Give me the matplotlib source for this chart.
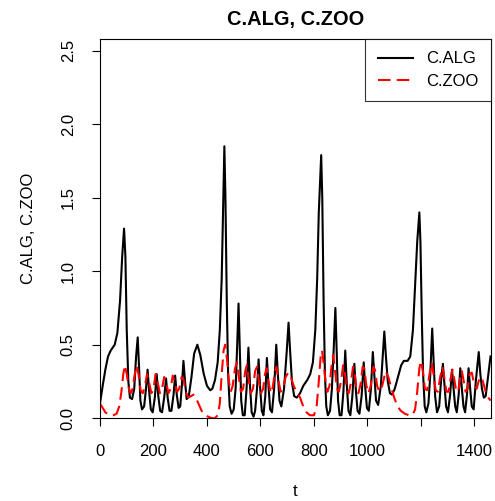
import matplotlib
matplotlib.use("Agg")
import matplotlib.pyplot as plt

plt.rcParams['font.family'] = ['Liberation Sans', 'DejaVu Sans']

title = "C.ALG, C.ZOO"
xlabel = "t"
ylabel = "C.ALG, C.ZOO"
series_names = ["C.ALG", "C.ZOO"]

x_ticks = [0, 200, 400, 600, 800, 1000, 1200, 1400]
x_tick_labels = ["0", "200", "400", "600", "800", "1000", "", "1400"]
y_ticks = [0.0, 0.5, 1.0, 1.5, 2.0, 2.5]
y_tick_labels = ["0.0", "0.5", "1.0", "1.5", "2.0", "2.5"]

alg_t = [0, 10, 20, 30, 40, 55, 65, 75, 83, 90, 95, 100, 106, 112, 120, 128, 135, 141, 146, 151,
         157, 165, 172, 178, 184, 190, 197, 205, 212, 218, 225, 232, 240, 247, 253, 260, 267, 275,
         281, 287, 294, 300, 306, 312, 318, 324, 332, 342, 352, 364, 375, 388, 400, 412, 420, 430,
         440, 448, 455, 460, 465, 469, 474, 479, 485, 492, 500, 507, 513, 518, 523, 528, 534, 541,
         548, 555, 561, 567, 574, 580, 587, 593, 599, 605, 611, 618, 624, 630, 636, 643, 651, 659,
         665, 671, 678, 688, 698, 705, 711, 718, 726, 736, 748, 760, 775, 786, 796, 805, 812, 818,
         827, 831, 836, 841, 846, 852, 860, 867, 874, 880, 885, 890, 896, 903, 910, 917, 923, 929,
         936, 943, 951, 957, 963, 970, 978, 986, 992, 998, 1005, 1013, 1020, 1026, 1032, 1040, 1050,
         1063, 1069, 1076, 1084, 1092, 1102, 1114, 1126, 1136, 1150, 1160, 1170, 1178, 1186, 1194,
         1198, 1203, 1208, 1214, 1220, 1228, 1235, 1242, 1247, 1253, 1260, 1268, 1275, 1282, 1288,
         1294, 1301, 1309, 1316, 1322, 1328, 1334, 1341, 1347, 1353, 1359, 1365, 1372, 1378, 1384,
         1390, 1397, 1405, 1416, 1422, 1428, 1435, 1442, 1452, 1460]
alg_val = [0.10, 0.22, 0.33, 0.42, 0.46, 0.50, 0.58, 0.80, 1.10, 1.29, 1.10, 0.60, 0.25, 0.14, 0.13,
           0.20, 0.42, 0.55, 0.35, 0.12, 0.06, 0.08, 0.20, 0.33, 0.18, 0.06, 0.04, 0.14, 0.30, 0.15,
           0.05, 0.04, 0.14, 0.27, 0.14, 0.05, 0.05, 0.16, 0.29, 0.16, 0.07, 0.08, 0.22, 0.39, 0.25,
           0.13, 0.15, 0.28, 0.44, 0.50, 0.43, 0.30, 0.22, 0.19, 0.20, 0.26, 0.38, 0.60, 0.95, 1.40,
           1.85, 1.50, 0.80, 0.30, 0.08, 0.03, 0.06, 0.20, 0.50, 0.78, 0.45, 0.12, 0.02, 0.02, 0.20,
           0.48, 0.22, 0.04, 0.01, 0.05, 0.20, 0.40, 0.20, 0.05, 0.02, 0.15, 0.41, 0.22, 0.06, 0.04,
           0.20, 0.50, 0.30, 0.12, 0.08, 0.20, 0.45, 0.65, 0.45, 0.24, 0.15, 0.14, 0.17, 0.22, 0.26,
           0.30, 0.38, 0.60, 0.95, 1.40, 1.79, 1.50, 0.80, 0.30, 0.08, 0.02, 0.05, 0.20, 0.48, 0.75,
           0.45, 0.12, 0.02, 0.02, 0.18, 0.46, 0.22, 0.05, 0.02, 0.14, 0.37, 0.18, 0.05, 0.03, 0.15,
           0.38, 0.20, 0.07, 0.05, 0.20, 0.45, 0.28, 0.12, 0.09, 0.22, 0.59, 0.42, 0.25, 0.17, 0.16,
           0.20, 0.28, 0.36, 0.39, 0.39, 0.42, 0.60, 0.90, 1.20, 1.40, 1.20, 0.70, 0.30, 0.08, 0.04,
           0.10, 0.30, 0.61, 0.40, 0.15, 0.04, 0.08, 0.25, 0.37, 0.22, 0.08, 0.04, 0.16, 0.33, 0.20,
           0.08, 0.04, 0.16, 0.34, 0.20, 0.08, 0.04, 0.16, 0.34, 0.20, 0.08, 0.06, 0.25, 0.45, 0.30,
           0.20, 0.14, 0.15, 0.30, 0.42]

zoo_t = [0, 10, 20, 35, 50, 62, 72, 80, 87, 93, 100, 108, 115, 122, 130, 137, 144, 152, 160, 168,
         176, 184, 192, 200, 208, 216, 224, 232, 240, 248, 256, 264, 272, 280, 288, 296, 305, 313,
         320, 330, 340, 350, 358, 368, 380, 392, 405, 418, 430, 440, 448, 455, 462, 468, 475, 482,
         489, 496, 505, 512, 519, 527, 535, 543, 549, 556, 564, 572, 580, 587, 594, 602, 610, 617,
         623, 630, 638, 646, 654, 660, 667, 675, 684, 694, 704, 714, 724, 735, 748, 760, 772, 785,
         800, 810, 818, 825, 830, 836, 843, 850, 858, 866, 872, 878, 886, 893, 901, 909, 915, 922,
         930, 938, 946, 951, 958, 966, 974, 982, 988, 996, 1004, 1012, 1022, 1028, 1036, 1045, 1055,
         1068, 1078, 1090, 1100, 1112, 1125, 1140, 1155, 1168, 1178, 1186, 1194, 1200, 1207, 1215,
         1223, 1232, 1240, 1247, 1255, 1263, 1272, 1280, 1287, 1295, 1303, 1311, 1318, 1325, 1332,
         1340, 1347, 1353, 1360, 1367, 1374, 1382, 1390, 1398, 1408, 1420, 1430, 1442, 1452, 1460]
zoo_val = [0.10, 0.07, 0.04, 0.02, 0.02, 0.03, 0.08, 0.18, 0.30, 0.36, 0.30, 0.20, 0.17, 0.20, 0.30,
           0.36, 0.30, 0.19, 0.17, 0.22, 0.30, 0.24, 0.17, 0.20, 0.30, 0.24, 0.17, 0.20, 0.28, 0.24,
           0.17, 0.20, 0.29, 0.24, 0.18, 0.20, 0.28, 0.26, 0.18, 0.14, 0.15, 0.16, 0.14, 0.10, 0.05,
           0.02, 0.01, 0.00, 0.00, 0.02, 0.10, 0.30, 0.46, 0.50, 0.40, 0.25, 0.18, 0.22, 0.34, 0.38,
           0.28, 0.18, 0.20, 0.32, 0.36, 0.26, 0.17, 0.20, 0.32, 0.35, 0.25, 0.17, 0.20, 0.30, 0.34,
           0.25, 0.17, 0.21, 0.32, 0.35, 0.26, 0.18, 0.20, 0.28, 0.31, 0.28, 0.22, 0.18, 0.14, 0.08,
           0.04, 0.02, 0.02, 0.08, 0.25, 0.42, 0.46, 0.38, 0.25, 0.18, 0.22, 0.36, 0.43, 0.34, 0.20,
           0.18, 0.25, 0.36, 0.32, 0.20, 0.17, 0.24, 0.35, 0.33, 0.21, 0.17, 0.23, 0.35, 0.34, 0.22,
           0.17, 0.22, 0.35, 0.33, 0.22, 0.18, 0.22, 0.32, 0.28, 0.20, 0.14, 0.08, 0.05, 0.03, 0.02,
           0.02, 0.06, 0.18, 0.34, 0.39, 0.32, 0.20, 0.19, 0.30, 0.38, 0.30, 0.19, 0.18, 0.28, 0.35,
           0.28, 0.18, 0.18, 0.27, 0.33, 0.26, 0.18, 0.19, 0.28, 0.32, 0.25, 0.18, 0.20, 0.30, 0.31,
           0.24, 0.20, 0.28, 0.26, 0.18, 0.14, 0.12]

fig = plt.figure(figsize=(4.95, 5.01), dpi=100)
ax = fig.add_axes([0.202, 0.1647, 0.790, 0.7575])

ax.plot(alg_t, alg_val, color="black", lw=1.5, label=series_names[0], solid_joinstyle="round")
ax.plot(zoo_t, zoo_val, color="red", lw=1.5, dashes=(6, 3), label=series_names[1])

ax.set_xlim(0, 1462)
ax.set_ylim(-0.002, 2.58)
ax.set_xticks(x_ticks)
ax.set_xticklabels(x_tick_labels)
ax.set_yticks(y_ticks)
ax.set_yticklabels(y_tick_labels, rotation=90, va="center")
ax.tick_params(axis="both", direction="out", length=5.5, width=0.8, labelsize=12, pad=12)
ax.tick_params(axis="x", pad=13)
for s in ax.spines.values():
    s.set_linewidth(0.8)

ax.set_title(title, fontsize=14.4, fontweight="bold", pad=10)
ax.set_xlabel(xlabel, fontsize=12, labelpad=18)
ax.set_ylabel(ylabel, fontsize=12, labelpad=18)

leg = ax.legend(loc="upper right", fontsize=12, frameon=True, fancybox=False,
                edgecolor="black", handlelength=2.1, borderaxespad=0, borderpad=0.75,
                labelspacing=0.45, handletextpad=0.8)
leg.get_frame().set_linewidth(0.8)

fig.savefig("out.png", dpi=100)
